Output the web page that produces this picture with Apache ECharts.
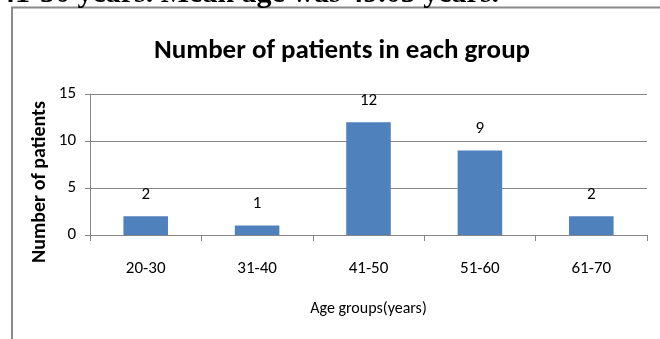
<!DOCTYPE html>
<html>
<head>
<meta charset="utf-8">
<script src="https://cdn.jsdelivr.net/npm/echarts@6/dist/echarts.min.js"></script>
<style>
  html, body { margin: 0; padding: 0; background: #fff; }
  #chart { width: 660px; height: 339px; }
</style>
</head>
<body>
<div id="chart"></div>
<script>
// Age groups and patient counts
const ageGroups = ['20-30', '31-40', '41-50', '51-60', '61-70'];
const patientCounts = [2, 1, 12, 9, 2];
const yTicks = { min: 0, max: 15, interval: 5 };

const narrow = 'Carlito, "Liberation Sans Narrow", "DejaVu Sans Condensed", "Open Sans", sans-serif';
const axisGray = '#868686';

const chart = echarts.init(document.getElementById('chart'), null, { renderer: 'canvas' });

chart.setOption({
  animation: false,
  backgroundColor: '#fff',
  title: {
    text: 'Number of patients in each group',
    left: 337,
    textAlign: 'center',
    top: 33,
    textStyle: { fontFamily: narrow, fontWeight: 'bold', fontSize: 27, color: '#000' }
  },
  graphic: [
    {
      type: 'rect',
      shape: { x: 12, y: 7.5, width: 720, height: 400 },
      style: { fill: 'none', stroke: '#8a8a8a', lineWidth: 2 },
      silent: true
    },
    {
      // running text of the page, cut by the top edge
      type: 'text',
      left: 0,
      top: -21,
      style: {
        text: '41-50 years. Mean age was 49.05 years.',
        font: 'bold 30px "Liberation Serif", "Times New Roman", serif',
        fill: '#000'
      },
      silent: true
    },
    {
      // y-axis title
      type: 'text',
      x: 40,
      y: 182,
      rotation: Math.PI / 2,
      style: {
        text: 'Number of patients',
        font: 'bold 20px ' + narrow,
        fill: '#000',
        align: 'center',
        verticalAlign: 'middle'
      },
      silent: true
    }
  ],
  grid: { left: 90, right: 13, top: 94, bottom: 104, containLabel: false },
  xAxis: {
    type: 'category',
    data: ageGroups,
    name: 'Age groups(years)',
    nameLocation: 'middle',
    nameGap: 66,
    nameTextStyle: { fontFamily: narrow, fontSize: 16, color: '#000' },
    axisLine: { show: true, lineStyle: { color: axisGray, width: 1 } },
    axisTick: { show: true, length: 6, alignWithLabel: false, lineStyle: { color: axisGray } },
    axisLabel: { fontFamily: narrow, fontSize: 17, color: '#000', margin: 25 }
  },
  yAxis: {
    type: 'value',
    min: yTicks.min,
    max: yTicks.max,
    interval: yTicks.interval,
    axisLine: { show: true, lineStyle: { color: axisGray, width: 1 } },
    axisTick: { show: true, length: 5, lineStyle: { color: axisGray } },
    axisLabel: { fontFamily: narrow, fontSize: 17, color: '#000', margin: 14 },
    splitLine: { show: true, lineStyle: { color: axisGray, width: 1 } }
  },
  series: [{
    type: 'bar',
    data: patientCounts,
    barWidth: '40%',
    itemStyle: { color: '#4F81BD' },
    label: {
      show: true,
      position: 'top',
      distance: 13,
      fontFamily: narrow,
      fontSize: 17,
      color: '#000'
    }
  }]
});
</script>
</body>
</html>
